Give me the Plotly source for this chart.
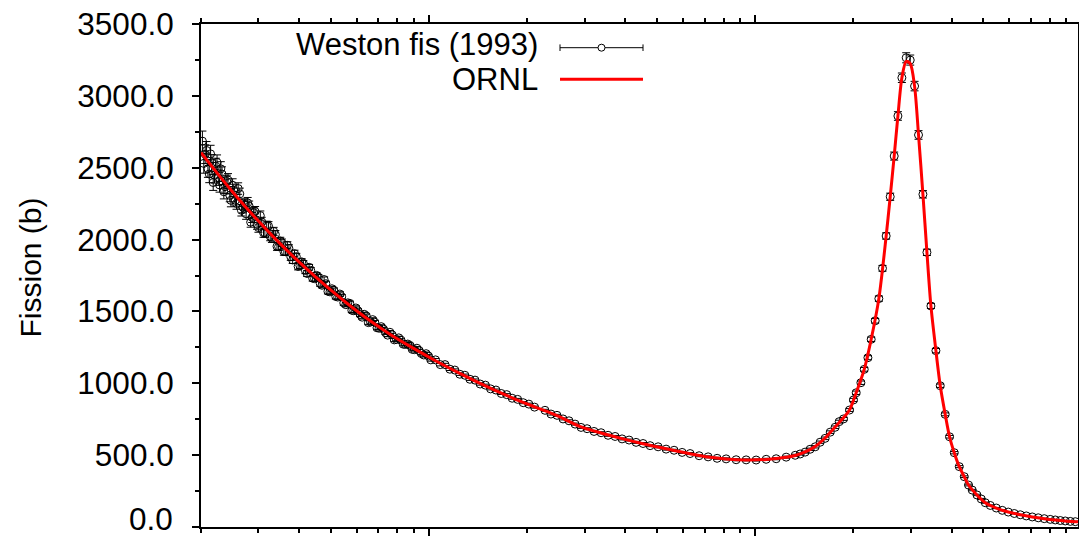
import math
import plotly.graph_objects as go

# ---------------- data ----------------
weston_E = [
    0.00202, 0.00206, 0.00210, 0.00214, 0.00218, 0.00222, 0.00226, 0.00230, 0.00235, 0.00240,
    0.00245, 0.00250, 0.00255, 0.00260, 0.00266, 0.00272, 0.00278, 0.00284, 0.00290, 0.00297,
    0.00304, 0.00311, 0.00318, 0.00326, 0.00334, 0.00342, 0.00350, 0.00359, 0.00368, 0.00377,
    0.00387, 0.00397, 0.00407, 0.00418, 0.00429, 0.00440, 0.00452, 0.00464, 0.00477, 0.00490,
    0.00504, 0.00518, 0.00533, 0.00548, 0.00564, 0.00580, 0.00597, 0.00615, 0.00633, 0.00652,
    0.00672, 0.00693, 0.00714, 0.00736, 0.00759, 0.00783, 0.00808, 0.00834, 0.00861, 0.00889,
    0.00918, 0.00948, 0.00980, 0.01013, 0.01047, 0.01083, 0.01120, 0.01159, 0.01200, 0.01243,
    0.01288, 0.01335, 0.01384, 0.01435, 0.01489, 0.01545, 0.01604, 0.01666, 0.01731, 0.01799,
    0.01870, 0.01945, 0.02024, 0.02107,
    0.02268, 0.02366, 0.02469, 0.02576, 0.02688, 0.02805, 0.02926, 0.03053, 0.03207, 0.03370,
    0.03541, 0.03721, 0.03908, 0.04107, 0.04315, 0.04533, 0.04764, 0.05041, 0.05333, 0.05643,
    0.05972, 0.06318, 0.06732, 0.07175, 0.07645, 0.08147, 0.08743, 0.09384, 0.1007, 0.1081,
    0.1160, 0.1245,
    0.1327, 0.1374, 0.1423, 0.1474, 0.1528, 0.1582, 0.1639, 0.1699, 0.1759, 0.1810,
    0.1866, 0.1947, 0.2002, 0.2041, 0.2110, 0.2160, 0.2217, 0.2269, 0.2334, 0.2395,
    0.2457, 0.2522, 0.2595, 0.2669, 0.2740, 0.2818, 0.2905, 0.2989, 0.3082, 0.3169,
    0.3269, 0.3363, 0.3459, 0.3583, 0.3694, 0.3826, 0.3945, 0.4078, 0.4225, 0.4377,
    0.4511,
    0.4630, 0.4787, 0.4935, 0.5076, 0.5259, 0.5487, 0.5724, 0.5972, 0.6230, 0.6500,
    0.6781, 0.7074, 0.7380, 0.7699, 0.8032, 0.8322, 0.8623, 0.8930, 0.9254, 0.9585,
]
weston_sigma = [
    2685, 2594, 2493, 2596, 2397, 2511, 2427, 2492, 2333, 2403,
    2308, 2378, 2273, 2355, 2204, 2246, 2255, 2121, 2187, 2107,
    2167, 2048, 2098, 2022, 2057, 1953, 1990, 1917, 1960, 1880,
    1902, 1813, 1845, 1785, 1807, 1731, 1751, 1694, 1722, 1640,
    1658, 1604, 1621, 1559, 1560, 1508, 1524, 1479, 1480, 1422,
    1443, 1386, 1394, 1352, 1355, 1302, 1316, 1272, 1273, 1236,
    1244, 1207, 1206, 1163, 1163, 1130, 1130, 1098, 1092, 1063,
    1056, 1028, 1022, 995, 987, 961, 953, 929, 921, 896,
    888, 865, 855, 834,
    812, 786, 777, 752, 739, 716, 693, 684, 665, 656,
    638, 630, 613, 605, 589, 581, 566, 558, 542, 534,
    519, 511, 496, 488, 478, 474, 468, 467, 466, 471,
    475, 486,
    499, 508, 521, 541, 558, 590, 617, 660, 694, 733,
    752, 814, 884, 934, 1004, 1097, 1178, 1306, 1435, 1589,
    1800, 2025, 2298, 2581, 2860, 3126, 3265, 3249, 3068, 2728,
    2315, 1911, 1538, 1227, 983, 784, 628, 517, 420, 350,
    292,
    257, 223, 195, 169, 150, 132, 116, 104, 94, 85,
    77, 70, 64, 58, 53, 49, 45, 42, 39, 37,
]
weston_err = [
    70, 65, 60, 60, 55, 55, 50, 50, 50, 45,
    45, 45, 40, 40, 40, 38, 38, 35, 35, 35,
    32, 32, 30, 30, 28, 28, 26, 26, 25, 25,
    24, 24, 22, 22, 20, 20, 19, 19, 18, 18,
    17, 17, 16, 16, 15, 15, 15, 14, 14, 14,
    13, 13, 13, 12, 12, 12, 11, 11, 11, 10,
    10, 10, 10, 9, 9, 9, 9, 9, 8, 8,
    8, 8, 8, 8, 7, 7, 7, 7, 7, 7,
    7, 7, 7, 7,
    7, 7, 7, 7, 7, 7, 7, 7, 7, 7,
    7, 7, 7, 7, 7, 7, 7, 7, 7, 7,
    7, 7, 7, 7, 7, 7, 7, 7, 7, 7,
    7, 7,
    7, 7, 7, 8, 8, 8, 9, 9, 9, 10,
    10, 10, 11, 12, 12, 13, 14, 15, 16, 18,
    20, 22, 25, 28, 30, 33, 35, 35, 33, 30,
    26, 22, 18, 15, 12, 10, 9, 8, 7, 6,
    6,
    5, 5, 4, 4, 4, 4, 4, 3, 3, 3,
    3, 3, 3, 3, 3, 3, 3, 3, 3, 3,
]

# interleaved low-energy Weston points (dense region below 0.01 eV)
weston_E_low = [
    0.00204, 0.00208, 0.00212, 0.00216, 0.00220, 0.00224, 0.00228, 0.00232, 0.00237, 0.00242,
    0.00247, 0.00252, 0.00257, 0.00263, 0.00269, 0.00275, 0.00281, 0.00287, 0.00293, 0.00300,
    0.00307, 0.00314, 0.00322, 0.00330, 0.00338, 0.00346, 0.00354, 0.00363, 0.00372, 0.00382,
    0.00392, 0.00402, 0.00412, 0.00423, 0.00434, 0.00446, 0.00458, 0.00470, 0.00483, 0.00497,
    0.00511, 0.00525, 0.00540, 0.00556, 0.00572, 0.00588, 0.00606, 0.00624, 0.00642, 0.00662,
    0.00682, 0.00703, 0.00725, 0.00747, 0.00771, 0.00795, 0.00821, 0.00847, 0.00875, 0.00903,
    0.00933, 0.00964, 0.00996,
]
weston_sigma_low = [
    2530, 2620, 2456, 2533, 2448, 2537, 2380, 2456, 2368, 2414,
    2273, 2343, 2251, 2318, 2225, 2179, 2232, 2154, 2195, 2084,
    2123, 2047, 2095, 2009, 2035, 1951, 1978, 1915, 1939, 1858,
    1881, 1820, 1833, 1764, 1786, 1728, 1739, 1682, 1693, 1636,
    1647, 1600, 1602, 1547, 1556, 1505, 1504, 1460, 1469, 1426,
    1425, 1383, 1377, 1335, 1337, 1305, 1300, 1270, 1263, 1234,
    1228, 1197, 1190,
]
weston_err_low = [
    68, 62, 60, 58, 55, 52, 50, 50, 48, 45,
    45, 42, 40, 40, 39, 38, 36, 35, 35, 33,
    32, 31, 30, 29, 28, 27, 26, 25, 25, 24,
    23, 22, 21, 20, 19, 19, 18, 18, 17, 17,
    16, 16, 15, 15, 15, 14, 14, 13, 13, 13,
    12, 12, 12, 11, 11, 10, 10, 10, 10, 9,
    9, 9, 9,
]

ornl_E = [
    0.00200, 0.00230, 0.00260, 0.00297, 0.00334, 0.00377, 0.00429, 0.00490, 0.00564, 0.00652,
    0.00759, 0.00889, 0.01047, 0.01243, 0.01489, 0.01799, 0.02107, 0.02469, 0.02926, 0.03370,
    0.03908, 0.04533, 0.05333, 0.06318, 0.07175, 0.08147, 0.09384, 0.1081, 0.1245, 0.1327,
    0.1423, 0.1528, 0.1639, 0.1759, 0.1866, 0.1947, 0.2041, 0.2160, 0.2269, 0.2395,
    0.2522, 0.2595, 0.2669, 0.2740, 0.2818, 0.2905, 0.2989, 0.3082, 0.3169, 0.3269,
    0.3363, 0.3459, 0.3583, 0.3694, 0.3826, 0.3945, 0.4078, 0.4225, 0.4377, 0.4511,
    0.4787, 0.5076, 0.5487, 0.5972, 0.6500, 0.7074, 0.7699, 0.8322, 0.8930, 0.9585,
    0.977,
]
ornl_sigma = [
    2605, 2431, 2286, 2139, 2017, 1899, 1780, 1665, 1552, 1444,
    1342, 1248, 1157, 1069, 982, 899, 836, 775, 696, 654,
    615, 579, 544, 510, 487, 473, 466, 470, 485, 497,
    522, 560, 619, 696, 760, 814, 934, 1097, 1306, 1589,
    2025, 2298, 2581, 2860, 3126, 3240, 3225, 3068, 2728, 2315,
    1911, 1538, 1227, 983, 784, 628, 517, 420, 350, 292,
    223, 169, 132, 104, 85, 70, 58, 49, 42, 37,
    36,
]

y_tick_vals = [0, 500, 1000, 1500, 2000, 2500, 3000, 3500]
y_tick_text = ["0.0", "500.0", "1000.0", "1500.0", "2000.0", "2500.0", "3000.0", "3500.0"]
x_major_vals = [0.01, 0.1]
x_minor_vals = [0.002, 0.003, 0.004, 0.005, 0.006, 0.007, 0.008, 0.009,
                0.02, 0.03, 0.04, 0.05, 0.06, 0.07, 0.08, 0.09,
                0.2, 0.3, 0.4, 0.5, 0.6, 0.7, 0.8, 0.9]
x_range = [0.002, 0.977]
y_range = [0, 3500]

legend_labels = ["Weston fis (1993)", "ORNL"]
y_title = "Fission (b)"

FONT = "Liberation Sans, Arial, sans-serif"
TICK_SIZE = 31.5
W, H = 1079, 538
ML, MR, MT, MB = 201, 1, 24, 11
PW, PH = W - ML - MR, H - MT - MB


def px(xp):
    return (xp - ML) / PW


def py(yp):
    return (H - MB - yp) / PH


fig = go.Figure()
fig.add_trace(go.Scatter(
    x=weston_E + weston_E_low, y=weston_sigma + weston_sigma_low, mode="markers",
    name=legend_labels[0],
    marker=dict(symbol="circle-open", size=8, color="black", line=dict(width=1, color="black")),
    error_y=dict(type="data", array=weston_err + weston_err_low, visible=True,
                 color="black", thickness=1, width=4),
    showlegend=False,
))
fig.add_trace(go.Scatter(
    x=ornl_E, y=ornl_sigma, mode="lines", name=legend_labels[1],
    line=dict(color="#ff0000", width=3, shape="spline", smoothing=0.8),
    showlegend=False,
))

fig.update_xaxes(
    type="log", range=[math.log10(x_range[0]), math.log10(x_range[1])],
    tickvals=x_major_vals, showticklabels=False, automargin=False,
    ticks="outside", ticklen=7, tickwidth=2, tickcolor="black",
    showline=True, linecolor="black", linewidth=2, mirror="ticks",
    showgrid=False, zeroline=False,
    minor=dict(tickvals=x_minor_vals, ticks="outside", ticklen=4, tickwidth=2,
               tickcolor="black", showgrid=False),
)
# the bottom label ("0.0") sits at the very edge of the page; it is drawn as
# an annotation kept inside the page, the other labels are regular tick labels
fig.update_yaxes(
    range=y_range, tickvals=y_tick_vals,
    ticktext=[""] + y_tick_text[1:], automargin=False,
    ticks="outside", ticklen=7, tickwidth=2, tickcolor="black",
    ticklabelstandoff=12,
    showline=True, linecolor="black", linewidth=2, mirror=True,
    showgrid=False, zeroline=False,
    tickfont=dict(family=FONT, size=TICK_SIZE, color="black"),
    minor=dict(dtick=250, ticks="outside", ticklen=4, tickwidth=2,
               tickcolor="black", showgrid=False),
)
fig.add_annotation(xref="paper", yref="paper", x=px(174), y=py(H), text=y_tick_text[0],
                   showarrow=False, xanchor="right", yanchor="bottom", borderpad=0,
                   font=dict(family=FONT, size=TICK_SIZE, color="black"))

# legend (gnuplot style: text right-aligned, sample to the right)
fig.add_annotation(xref="paper", yref="paper", x=px(540), y=py(44.3), text=legend_labels[0],
                   showarrow=False, xanchor="right", yanchor="middle",
                   font=dict(family=FONT, size=31, color="black"))
fig.add_annotation(xref="paper", yref="paper", x=px(540), y=py(79.3), text=legend_labels[1],
                   showarrow=False, xanchor="right", yanchor="middle",
                   font=dict(family=FONT, size=31, color="black"))
ly1 = py(47.7)
ly2 = py(79.3)
fig.add_shape(type="line", xref="paper", yref="paper", x0=px(560), x1=px(643), y0=ly1, y1=ly1,
              line=dict(color="black", width=1))
for xe in (560, 643):
    fig.add_shape(type="line", xref="paper", yref="paper", x0=px(xe), x1=px(xe),
                  y0=py(51), y1=py(44.4), line=dict(color="black", width=1))
fig.add_shape(type="circle", xref="paper", yref="paper", xsizemode="pixel", ysizemode="pixel",
              xanchor=px(601.5), yanchor=ly1, x0=-3.5, x1=3.5, y0=-3.5, y1=3.5,
              line=dict(color="black", width=1), fillcolor="white")
fig.add_shape(type="line", xref="paper", yref="paper", x0=px(560), x1=px(643), y0=ly2, y1=ly2,
              line=dict(color="#ff0000", width=3))

fig.add_annotation(xref="paper", yref="paper", x=px(29.5), y=py(268), text=y_title,
                   textangle=-90, showarrow=False, xanchor="center", yanchor="middle",
                   font=dict(family=FONT, size=30, color="black"))

fig.update_layout(
    width=W, height=H,
    margin=dict(l=ML, r=MR, t=MT, b=MB, pad=0, autoexpand=False),
    paper_bgcolor="white", plot_bgcolor="white",
    font=dict(family=FONT, size=30, color="black"),
    showlegend=False,
)

fig.write_html("out.html")
